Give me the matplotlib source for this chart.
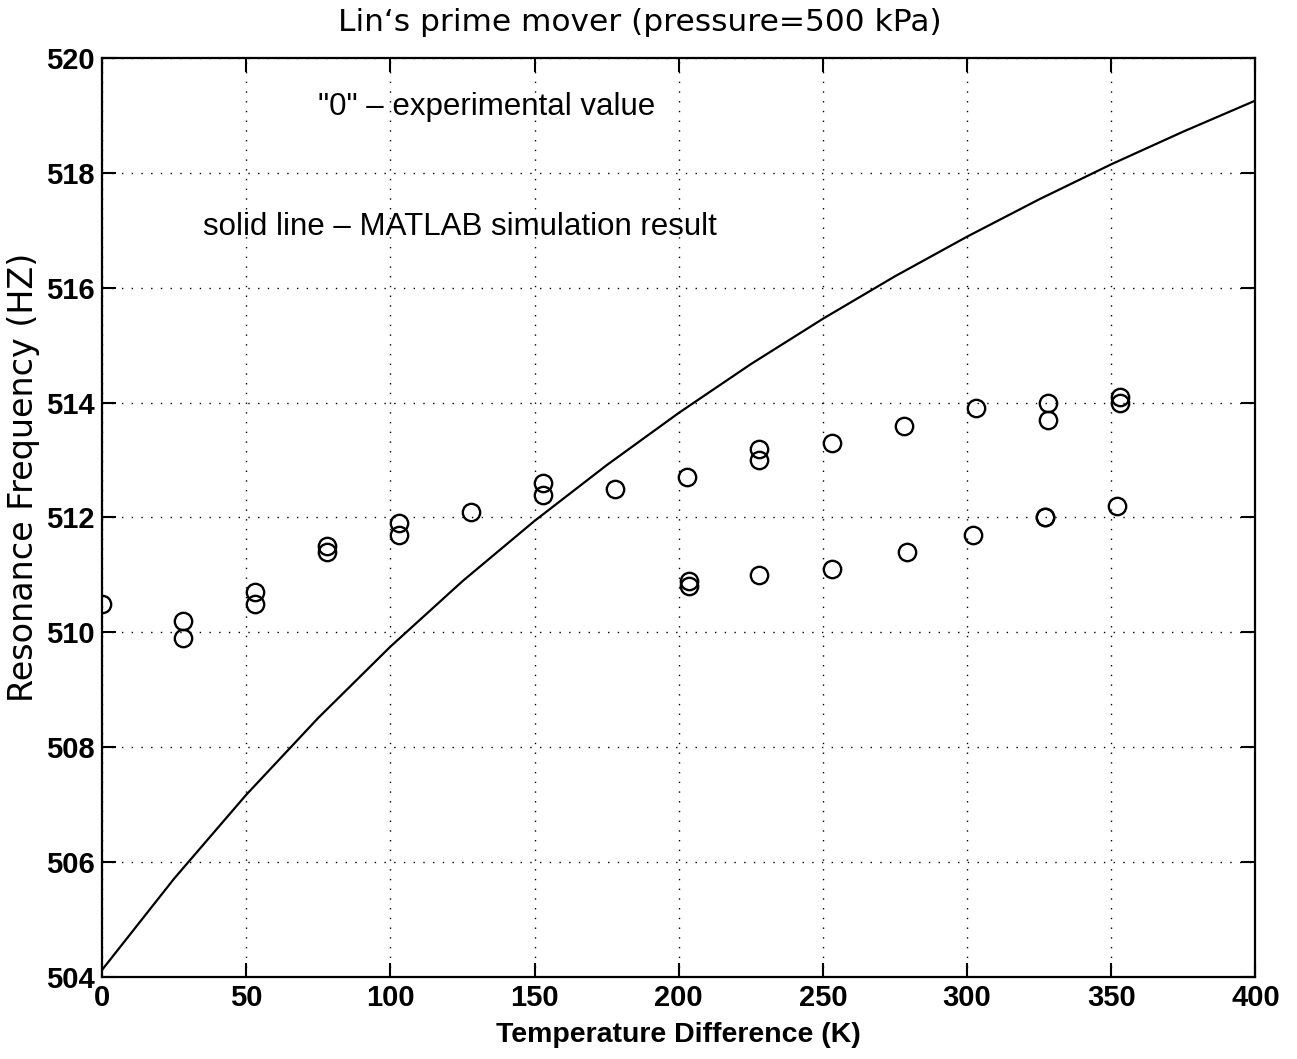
import matplotlib
matplotlib.use("Agg")
import matplotlib.pyplot as plt

# Simulation curve (read at 25 K steps)
sim_dT = [0, 25, 50, 75, 100, 125, 150, 175, 200, 225, 250, 275, 300, 325, 350, 375, 400]
sim_f = [504.12, 505.71, 507.17, 508.51, 509.75, 510.89, 511.94, 512.91, 513.82,
         514.67, 515.46, 516.20, 516.89, 517.54, 518.15, 518.72, 519.26]

# Experimental values
exp_dT = [0, 28, 28, 53, 53, 78, 78, 103, 103, 128, 153, 153, 178,
          203, 203.5, 203.5, 228, 228, 228, 253, 253, 278, 279, 303, 302,
          328, 328, 327, 327, 353, 353, 352]
exp_f = [510.5, 510.2, 509.9, 510.7, 510.5, 511.5, 511.4, 511.9, 511.7, 512.1, 512.6, 512.4, 512.5,
         512.7, 510.9, 510.8, 513.2, 513.0, 511.0, 513.3, 511.1, 513.6, 511.4, 513.9, 511.7,
         514.0, 513.7, 512.0, 512.0, 514.1, 514.0, 512.2]

x_ticks = [0, 50, 100, 150, 200, 250, 300, 350, 400]
y_ticks = [504, 506, 508, 510, 512, 514, 516, 518, 520]

plt.rcParams['font.family'] = ['Liberation Sans', 'DejaVu Sans']

fig = plt.figure(figsize=(12.97, 10.59), dpi=100)
ax = fig.add_axes([0.0786, 0.0775, 0.8894, 0.8677])

ax.plot(sim_dT, sim_f, color='black', lw=1.6)
ax.plot(exp_dT, exp_f, linestyle='none', marker='o', markersize=12.5,
        markerfacecolor='none', markeredgecolor='black', markeredgewidth=1.7)

ax.set_xlim(0, 400)
ax.set_ylim(504, 520)
ax.set_xticks(x_ticks)
ax.set_yticks(y_ticks)
ax.grid(True, color='black', linestyle=(0, (1, 6)), linewidth=1.0)
ax.tick_params(direction='in', length=10, width=1.5, top=True, right=True,
               labelsize=21, pad=5)
for lbl in ax.get_xticklabels() + ax.get_yticklabels():
    lbl.set_fontweight('bold')
for s in ax.spines.values():
    s.set_linewidth(1.6)

ax.set_xlabel('Temperature Difference (K)', fontsize=20.5, fontweight='bold', labelpad=7)
fig.text(24 / 1297, 1 - 477 / 1059, 'Resonance Frequency (HZ)', rotation=90,
         ha='center', va='center', fontsize=24, family=['DejaVu Sans'])
fig.text(0.493, 0.979, "Lin\u2018s prime mover (pressure=500 kPa)", ha='center', va='center',
         fontsize=22.5, family=['DejaVu Sans'])

ax.text(75, 519.15, '"0" \u2013 experimental value', fontsize=22.5, va='center', ha='left')
ax.text(35, 517.05, 'solid line \u2013 MATLAB simulation result', fontsize=22.5, va='center', ha='left')

fig.savefig('out.png', dpi=100)
